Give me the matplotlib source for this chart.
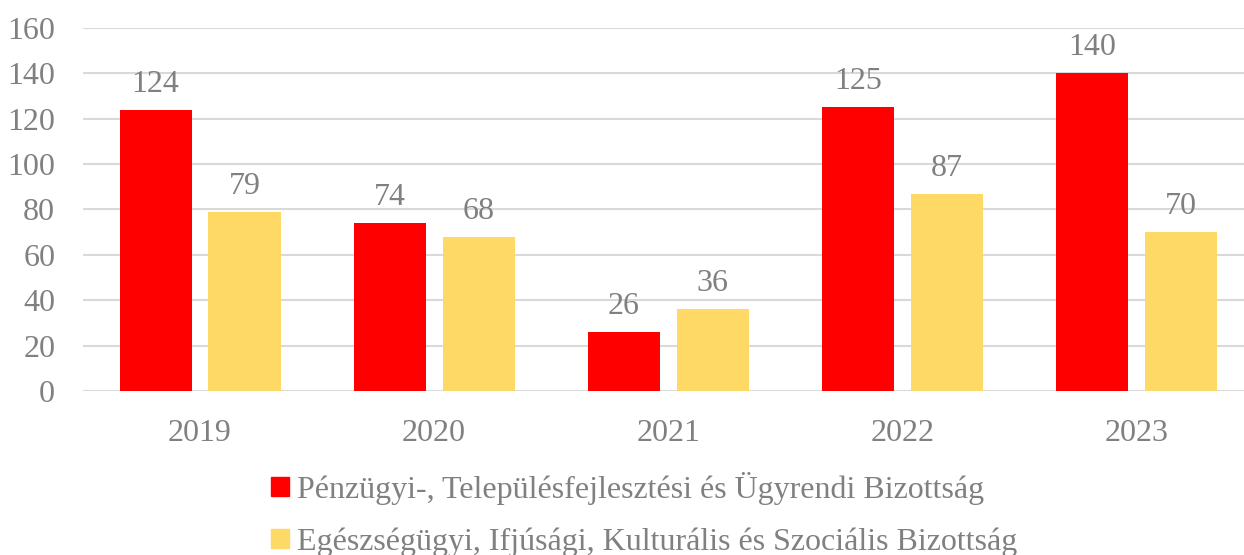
import numpy as np
import matplotlib
matplotlib.use('Agg')
import matplotlib.pyplot as plt
from matplotlib import rcParams
from matplotlib.patches import Patch

rcParams['font.family'] = ['Liberation Serif', 'DejaVu Serif']

years = ['2019', '2020', '2021', '2022', '2023']
penzugyi = [124, 74, 26, 125, 140]
egeszsegugyi = [79, 68, 36, 87, 70]
labels = ['Pénzügyi-, Településfejlesztési és Ügyrendi Bizottság',
          'Egészségügyi, Ifjúsági, Kulturális és Szociális Bizottság']

RED = '#FF0000'
YELLOW = '#FFD966'
GRAY = '#808080'
FS = 23

fig = plt.figure(figsize=(12.44, 5.55), dpi=100)
ax = fig.add_axes([83 / 1244, 1 - 391 / 555, 1 - 83 / 1244, (391 - 28) / 555])

x = np.arange(len(years))
w = 0.308
b1 = ax.bar(x - 0.19, penzugyi, w, color=RED, zorder=3)
b2 = ax.bar(x + 0.19, egeszsegugyi, w, color=YELLOW, zorder=3)
ax.bar_label(b1, padding=8, fontsize=FS, color=GRAY)
ax.bar_label(b2, padding=8, fontsize=FS, color=GRAY)

ax.set_xlim(-0.5, 4.46)
ax.set_ylim(0, 160)
ax.set_yticks(range(0, 161, 20))
ax.set_xticks(x)
ax.set_xticklabels(years)
ax.yaxis.grid(True, color='#D9D9D9', linewidth=1.5, zorder=0)
ax.set_axisbelow(True)
for s in ax.spines.values():
    s.set_visible(False)
ax.tick_params(axis='both', length=0, labelsize=FS, labelcolor=GRAY)
ax.tick_params(axis='y', pad=20)
ax.tick_params(axis='x', pad=20)

handles = [Patch(color=RED), Patch(color=YELLOW)]
leg = fig.legend(handles, labels, loc='upper left', bbox_to_anchor=(271 / 1244, 1 - 472 / 555),
                 frameon=False, fontsize=FS, handlelength=0.55, handleheight=0.55,
                 handletextpad=0.25, labelspacing=0.7, borderpad=0, borderaxespad=0)
for t in leg.get_texts():
    t.set_color(GRAY)

fig.savefig('out.png', dpi=100)
